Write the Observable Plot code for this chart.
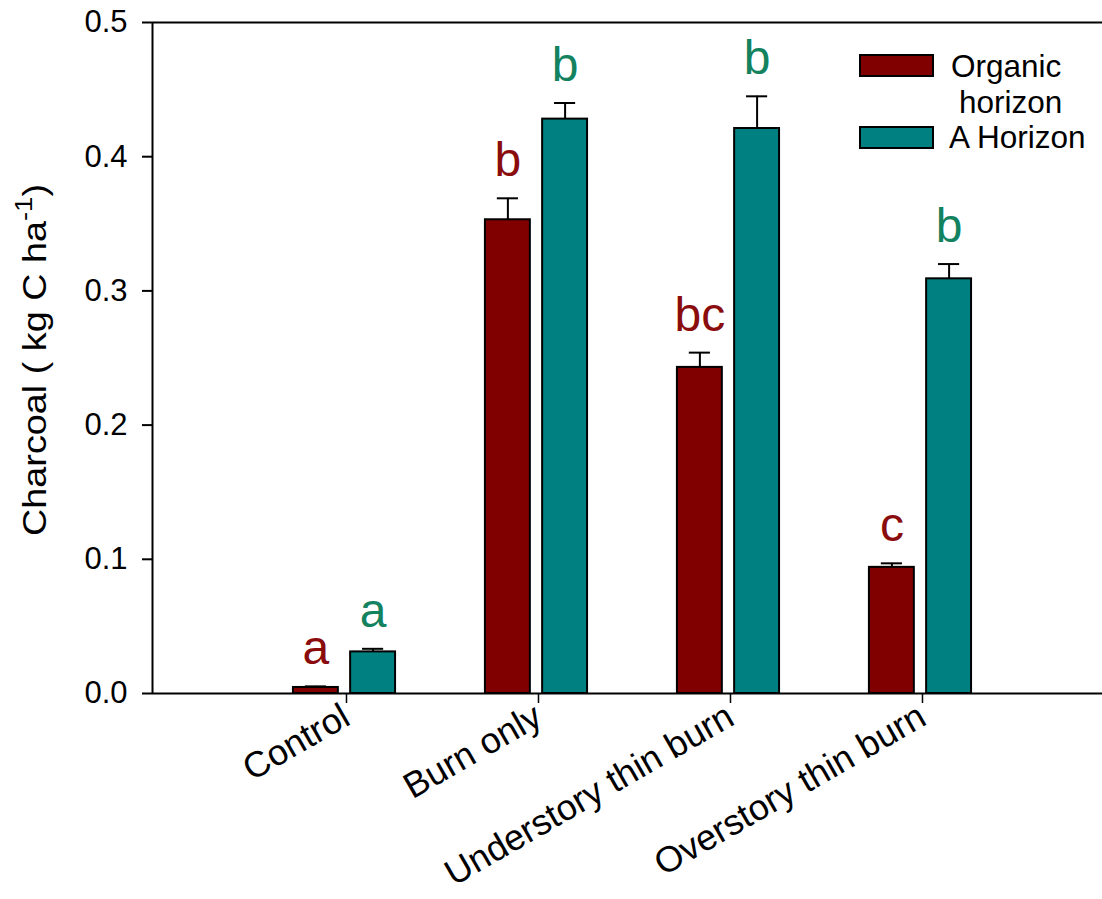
<!DOCTYPE html>
<html>
<head>
<meta charset="utf-8">
<script src="https://cdn.jsdelivr.net/npm/d3@7"></script>
<script src="https://cdn.jsdelivr.net/npm/@observablehq/plot@0.6"></script>
<style>
  html, body { margin: 0; padding: 0; background: #fff; }
  #chart { position: relative; width: 1102px; height: 899px; }
</style>
</head>
<body>
<div id="chart"></div>
<script>
// ---- data ----
const categories = ["Control", "Burn only", "Understory thin burn", "Overstory thin burn"];
const seriesNames = ["Organic horizon", "A Horizon"];
const organicValues = [0.0045, 0.353, 0.243, 0.094];
const organicErrors = [0.0008, 0.016, 0.011, 0.003];
const aHorizonValues = [0.031, 0.428, 0.421, 0.309];
const aHorizonErrors = [0.0023, 0.012, 0.024, 0.011];
const organicLetters = ["a", "b", "bc", "c"];
const aHorizonLetters = ["a", "b", "b", "b"];
const yTicks = [0, 0.1, 0.2, 0.3, 0.4, 0.5];

// ---- styling / layout ----
const fills = ["#800000", "#008080"];
const letterColors = ["#8a0c0c", "#13825f"];
const barHalf = 0.117;     // bar half-width in category units
const barOffset = 0.149;   // bar centre offset from category centre
const capHalf = 0.055;

const rows = [];
categories.forEach((c, i) => {
  rows.push({i, s: 0, center: i - barOffset, value: organicValues[i], err: organicErrors[i], letter: organicLetters[i]});
  rows.push({i, s: 1, center: i + barOffset, value: aHorizonValues[i], err: aHorizonErrors[i], letter: aHorizonLetters[i]});
});

const W = 1102, H = 899;
const chart = Plot.plot({
  width: W,
  height: H,
  marginLeft: 152,
  marginRight: 0,
  marginTop: 22,
  marginBottom: 206,
  style: {fontFamily: "'Liberation Sans', Arial, sans-serif", color: "#000", background: "#fff", overflow: "visible"},
  x: {type: "linear", domain: [-1, 3.948]},
  y: {domain: [0, 0.5]},
  marks: [
    Plot.rectY(rows, {
      x1: d => d.center - barHalf, x2: d => d.center + barHalf,
      y1: 0, y2: "value",
      fill: d => fills[d.s], stroke: "#000", strokeWidth: 2
    }),
    Plot.ruleX(rows, {x: "center", y1: "value", y2: d => d.value + d.err, stroke: "#000", strokeWidth: 2}),
    Plot.ruleY(rows, {y: d => d.value + d.err, x1: d => d.center - capHalf, x2: d => d.center + capHalf, stroke: "#000", strokeWidth: 2}),
    Plot.text(rows, {
      x: "center", y: d => d.value + d.err, text: "letter",
      fill: d => letterColors[d.s], fontSize: 48, lineAnchor: "bottom", dy: -22
    }),
    Plot.ruleY([0, 0.5], {stroke: "#000", strokeWidth: 2}),
    Plot.ruleX([-1], {stroke: "#000", strokeWidth: 2}),
    Plot.axisY({ticks: yTicks, tickFormat: d3.format(".1f"), tickSize: 10, tickPadding: 15, fontSize: 31, label: null, strokeWidth: 2}),
    Plot.axisX({ticks: [0, 1, 2, 3], tickFormat: i => categories[i], tickRotate: -30, tickSize: 10, tickPadding: 10, dx: 2, fontSize: 36, label: null, strokeWidth: 1.5})
  ]
});

const svg = d3.select(chart);
// y-axis title with superscript
const yl = svg.append("text")
  .attr("transform", "translate(46,360) rotate(-90)")
  .attr("text-anchor", "middle")
  .attr("font-size", 33)
  .attr("textLength", 352)
  .attr("lengthAdjust", "spacingAndGlyphs")
  .attr("fill", "#000");
yl.append("tspan").text("Charcoal ( kg C ha");
yl.append("tspan").attr("font-size", 24).attr("dy", -14).text("-1");
yl.append("tspan").attr("dy", 14).text(")");

// legend
const lg = svg.append("g").attr("font-size", 31.5).attr("fill", "#000").attr("text-anchor", "start");
const lgRows = [{y: 55, lines: ["Organic", "horizon"]}, {y: 127, lines: ["A Horizon"]}];
lgRows.forEach((r, k) => {
  lg.append("rect").attr("x", 860).attr("y", r.y).attr("width", 73).attr("height", 21)
    .attr("fill", fills[k]).attr("stroke", "#000").attr("stroke-width", 2);
  if (r.lines.length === 2) {
    lg.append("text").attr("x", 951).attr("y", r.y + 22).text(r.lines[0]);
    lg.append("text").attr("x", 959).attr("y", r.y + 58).text(r.lines[1]);
  } else {
    lg.append("text").attr("x", 949).attr("y", r.y + 21).text(r.lines[0]);
  }
});

document.getElementById("chart").appendChild(chart);
</script>
</body>
</html>
